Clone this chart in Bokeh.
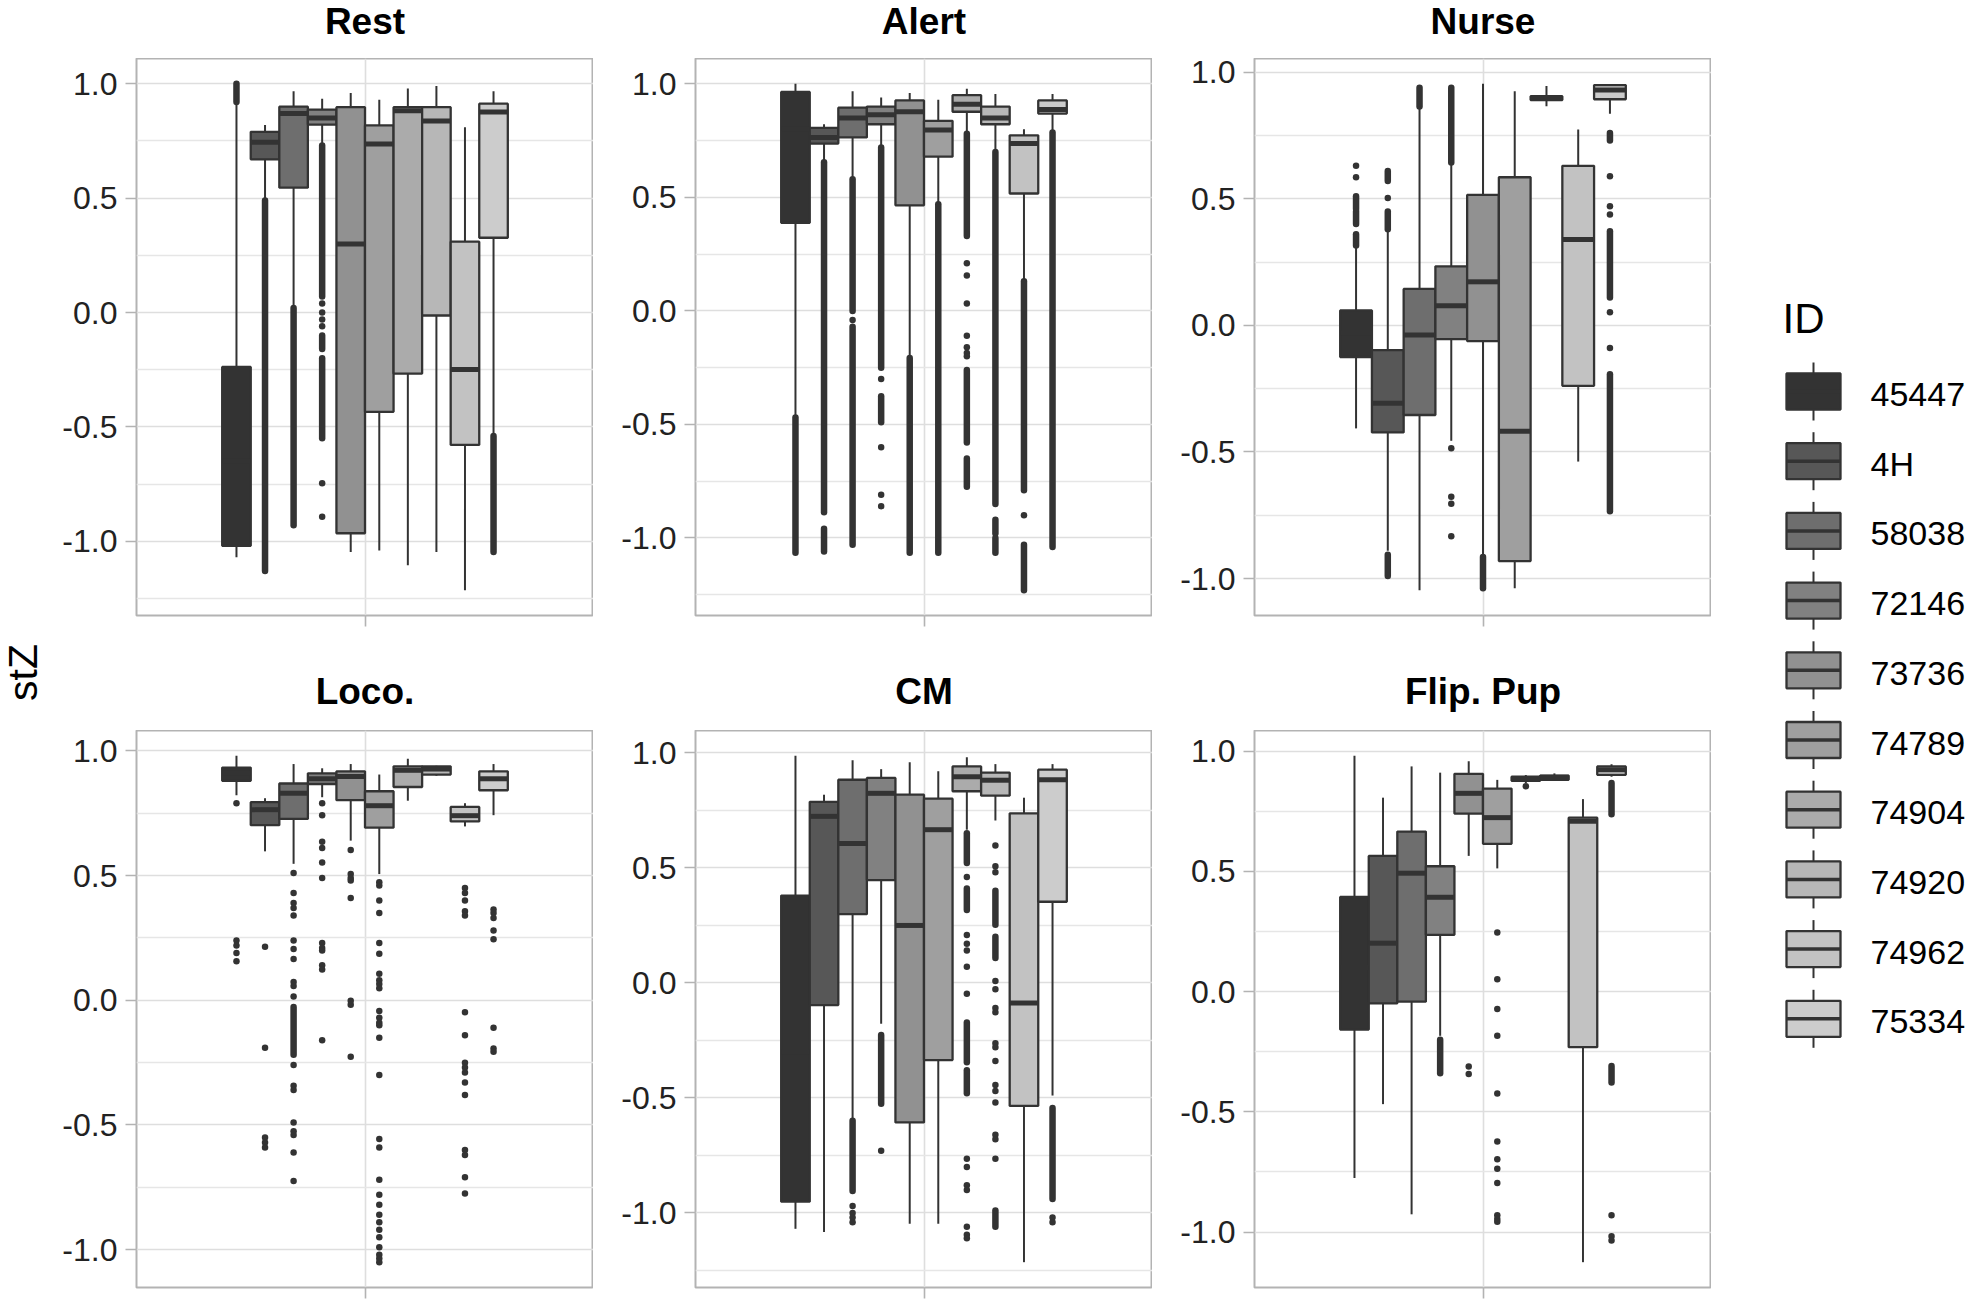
import math
from bokeh.plotting import figure
from bokeh.models import Range1d, FixedTicker, NumeralTickFormatter, ColumnDataSource
from bokeh.layouts import row, column
from bokeh.embed import file_html
from bokeh.resources import INLINE
from bokeh.core.properties import value

FONT = "Liberation Sans"

IDS = ["45447", "4H", "58038", "72146", "73736", "74789", "74904", "74920", "74962", "75334"]
FILLS = ["#333333", "#575757", "#6e6e6e", "#818181", "#919191", "#9f9f9f",
         "#ababab", "#b7b7b7", "#c2c2c2", "#cccccc"]
PANEL_TITLES = ["Rest", "Alert", "Nurse", "Loco.", "CM", "Flip. Pup"]

# ---------------- Rest ----------------
REST_LW = [-1.07, 0.49, 0.02, 0.73, -1.047, -1.04, -1.105, -1.047, -1.214, -0.54]
REST_Q1 = [-1.02, 0.67, 0.546, 0.822, -0.965, -0.434, -0.267, -0.013, -0.579, 0.327]
REST_MED = [-0.65, 0.745, 0.87, 0.85, 0.30, 0.737, 0.882, 0.837, -0.249, 0.877]
REST_Q3 = [-0.238, 0.79, 0.90, 0.887, 0.898, 0.818, 0.898, 0.898, 0.31, 0.913]
REST_UW = [0.92, 0.82, 0.967, 0.935, 0.96, 0.93, 0.98, 0.99, 0.81, 0.967]
REST_OUT = [[], [], [], [0.04, 0.0, -0.03, -0.06, -0.746, -0.893], [], [], [], [], [], []]
REST_RUNS = [[[0.92, 1.0]], [[-1.13, 0.49]], [[-0.93, 0.02]],
             [[0.07, 0.73], [-0.16, -0.10], [-0.55, -0.20]], [], [], [], [], [],
             [[-1.047, -0.54]]]

# ---------------- Alert ----------------
ALERT_LW = [-0.47, 0.655, 0.58, 0.72, -0.207, 0.47, 0.78, 0.70, 0.13, 0.786]
ALERT_Q1 = [0.388, 0.737, 0.764, 0.822, 0.465, 0.679, 0.877, 0.822, 0.517, 0.869]
ALERT_MED = [0.80, 0.764, 0.85, 0.864, 0.877, 0.797, 0.91, 0.85, 0.737, 0.887]
ALERT_Q3 = [0.964, 0.806, 0.895, 0.90, 0.927, 0.837, 0.95, 0.90, 0.773, 0.927]
ALERT_UW = [1.0, 0.822, 0.967, 0.94, 0.96, 0.93, 0.978, 0.955, 0.80, 0.955]
ALERT_OUT = [[], [], [-0.04], [-0.30, -0.60, -0.81, -0.86], [], [],
             [0.21, 0.156, 0.033, -0.11, -0.16, -0.185, -0.20], [], [-0.90], []]
ALERT_RUNS = [[[-1.065, -0.47]], [[-0.887, 0.655], [-1.06, -0.96]],
              [[0.0, 0.58], [-1.03, -0.07]], [[-0.25, 0.72], [-0.49, -0.376]],
              [[-1.065, -0.207]], [[-1.065, 0.47]],
              [[0.33, 0.78], [-0.58, -0.26], [-0.775, -0.65]],
              [[-0.85, 0.70], [-0.98, -0.92], [-1.065, -1.0]],
              [[-0.79, 0.13], [-1.23, -1.03]], [[-1.04, 0.786]]]

# ---------------- Nurse (74904 absent) ----------------
NURSE_LW = [-0.407, -0.89, -1.046, -0.456, -0.903, -1.038, None, 0.865, -0.538, 0.836]
NURSE_Q1 = [-0.125, -0.423, -0.354, -0.054, -0.062, -0.931, None, 0.89, -0.239, 0.893]
NURSE_MED = [-0.03, -0.308, -0.038, 0.077, 0.172, -0.418, None, 0.897, 0.339, 0.93]
NURSE_Q3 = [0.059, -0.098, 0.144, 0.233, 0.515, 0.585, None, 0.905, 0.63, 0.949]
NURSE_UW = [0.315, 0.372, 0.864, 0.643, 0.954, 0.925, None, 0.945, 0.774, 0.95]
NURSE_OUT = [[0.585, 0.63], [0.503], [], [-0.485, -0.677, -0.705, -0.833], [], [], [], [], [],
             [0.589, 0.47, 0.438, 0.052, -0.089]]
NURSE_RUNS = [[[0.315, 0.36], [0.40, 0.45], [0.46, 0.51]],
              [[0.38, 0.45], [0.57, 0.61], [-0.99, -0.906]],
              [[0.864, 0.938]], [[0.643, 0.938]], [[-1.038, -0.915]], [], [], [], [],
              [[0.73, 0.76], [0.11, 0.372], [-0.734, -0.193]]]

# ---------------- Loco. ----------------
LOCO_LW = [0.822, 0.597, 0.547, 0.814, 0.64, 0.506, 0.80, 0.90, 0.697, 0.742]
LOCO_Q1 = [0.88, 0.702, 0.727, 0.867, 0.802, 0.692, 0.855, 0.905, 0.717, 0.842]
LOCO_MED = [0.91, 0.764, 0.83, 0.888, 0.897, 0.78, 0.922, 0.927, 0.74, 0.888]
LOCO_Q3 = [0.933, 0.794, 0.869, 0.91, 0.918, 0.838, 0.938, 0.938, 0.775, 0.918]
LOCO_UW = [0.98, 0.81, 0.947, 0.93, 0.947, 0.905, 0.968, 0.94, 0.79, 0.947]
LOCO_OUT = [
    [0.79, 0.24, 0.22, 0.19, 0.156],
    [0.215, -0.19, -0.55, -0.57, -0.59],
    [0.51, 0.43, 0.39, 0.37, 0.34, 0.24, 0.206, 0.165, 0.073, 0.057, 0.015, -0.26, -0.343,
     -0.36, -0.49, -0.525, -0.54, -0.61, -0.725],
    [0.79, 0.742, 0.636, 0.61, 0.552, 0.49, 0.23, 0.21, 0.20, 0.14, 0.123, -0.16],
    [0.602, 0.506, 0.49, 0.48, 0.41, -0.002, -0.018, -0.226],
    [0.473, 0.46, 0.40, 0.35, 0.23, 0.186, 0.106, 0.08, 0.065, 0.048, -0.043, -0.07, -0.09,
     -0.10, -0.15, -0.30, -0.556, -0.59, -0.72, -0.78, -0.82, -0.86, -0.89, -0.92, -0.95,
     -0.99, -1.02, -1.035, -1.05],
    [], [],
    [0.45, 0.43, 0.40, 0.357, 0.34, -0.048, -0.14, -0.25, -0.27, -0.29, -0.33, -0.38,
     -0.60, -0.62, -0.71, -0.775],
    [0.364, 0.35, 0.33, 0.28, 0.245, -0.11, -0.193, -0.206]]
LOCO_RUNS = [[], [], [[-0.218, -0.027]], [], [], [], [], [], [], []]

# ---------------- CM ----------------
CM_LW = [-1.069, -1.083, -0.595, -0.178, -1.047, -1.047, 0.665, 0.705, -1.214, -0.49]
CM_Q1 = [-0.951, -0.097, 0.298, 0.446, -0.607, -0.336, 0.832, 0.813, -0.535, 0.352]
CM_MED = [-0.30, 0.723, 0.605, 0.823, 0.249, 0.665, 0.895, 0.88, -0.088, 0.882]
CM_Q3 = [0.379, 0.786, 0.882, 0.89, 0.817, 0.80, 0.94, 0.913, 0.736, 0.926]
CM_UW = [0.986, 0.817, 0.967, 0.928, 0.958, 0.919, 0.98, 0.95, 0.804, 0.95]
CM_OUT = [[], [], [-0.97, -1.0, -1.02, -1.04], [-0.73], [], [],
          [0.46, 0.207, 0.17, 0.14, 0.07, -0.048, -0.765, -0.80, -0.88, -0.90, -1.06, -1.095, -1.11],
          [0.596, 0.506, 0.48, 0.008, -0.028, -0.11, -0.128, -0.263, -0.28, -0.34, -0.444,
           -0.47, -0.52, -0.66, -0.68, -0.765],
          [], [-1.02, -1.04]]
CM_RUNS = [[], [], [[-0.905, -0.60]], [[-0.526, -0.227]], [], [],
           [[0.52, 0.65], [0.316, 0.41], [-0.345, -0.173], [-0.48, -0.38]],
           [[0.252, 0.40], [0.108, 0.20], [-1.06, -0.99]], [], [[-0.94, -0.544]]]

# ---------------- Flip. Pup ----------------
FLIP_LW = [-0.775, -0.468, -0.926, -0.184, 0.564, 0.512, 0.867, 0.876, -1.125, 0.893]
FLIP_Q1 = [-0.158, -0.049, -0.042, 0.236, 0.74, 0.614, 0.876, 0.88, -0.231, 0.901]
FLIP_MED = [0.10, 0.201, 0.492, 0.392, 0.824, 0.723, 0.884, 0.891, 0.708, 0.922]
FLIP_Q3 = [0.393, 0.564, 0.665, 0.521, 0.905, 0.844, 0.893, 0.898, 0.723, 0.936]
FLIP_UW = [0.98, 0.806, 0.936, 0.91, 0.957, 0.88, 0.90, 0.907, 0.80, 0.945]
FLIP_OUT = [[], [], [], [], [-0.312, -0.343],
            [0.245, 0.051, -0.073, -0.184, -0.424, -0.623, -0.697, -0.737, -0.796, -0.93, -0.945, -0.957],
            [0.853], [], [], [-0.93, -1.017, -1.035]]
FLIP_RUNS = [[], [], [], [[-0.34, -0.20]], [], [], [], [], [], [[0.737, 0.867], [-0.378, -0.309]]]

Y_TICKS = [-1.0, -0.5, 0.0, 0.5, 1.0]
Y_MINOR = [-1.25, -0.75, -0.25, 0.25, 0.75, 1.25]

LINE = "#333333"
GRID = "#dedede"
BORDER = "#b3b3b3"
DOT = 6.5

# layout (page pixels)
LABEL_W = 58
FRAME_W = 457
FRAME_H = 557
LEFTS = [78, 102, 102]
HEAD1_H = 58
HEAD2_H = 103
BOTTOM = 12
TOTAL_H = HEAD1_H + FRAME_H + BOTTOM + HEAD2_H + FRAME_H + BOTTOM
GRID_W = sum(LEFTS) + 3 * FRAME_W
LEG_X0 = LABEL_W + GRID_W
LEG_W = 1967 - LEG_X0


def make_panel(lw, q1, med, q3, uw, outs, runs, left):
    present = [i for i in range(len(IDS)) if q1[i] is not None]
    n = len(present)
    w = 0.75 / n
    xs = [1 - 0.375 + (k + 0.5) * w for k in range(n)]

    vals = []
    for i in present:
        vals += [lw[i], uw[i]] + outs[i] + [v for r in runs[i] for v in r]
    lo, hi = min(vals), max(vals)
    pad = 0.05 * (hi - lo)

    p = figure(frame_width=FRAME_W, frame_height=FRAME_H, x_range=Range1d(0.4, 1.6),
               y_range=Range1d(lo - pad, hi + pad), output_backend="svg",
               toolbar_location=None,
               min_border_left=left, min_border_right=0,
               min_border_top=0, min_border_bottom=BOTTOM)
    p.title.visible = False
    p.background_fill_color = "white"
    p.border_fill_color = "white"
    p.outline_line_color = BORDER
    p.outline_line_width = 2

    p.yaxis.ticker = FixedTicker(ticks=Y_TICKS, minor_ticks=Y_MINOR)
    p.yaxis.formatter = NumeralTickFormatter(format="0.0")
    p.yaxis.major_label_text_font = FONT
    p.yaxis.major_label_text_font_size = "32px"
    p.yaxis.major_label_text_color = "#222222"
    p.yaxis.major_label_standoff = 8
    p.yaxis.axis_line_color = None
    p.yaxis.major_tick_line_color = BORDER
    p.yaxis.major_tick_line_width = 1.6
    p.yaxis.major_tick_out = 11
    p.yaxis.major_tick_in = 0
    p.yaxis.minor_tick_line_color = None

    p.xaxis.ticker = FixedTicker(ticks=[1.0])
    p.xaxis.major_label_text_font_size = "0px"
    p.xaxis.major_label_text_color = None
    p.xaxis.major_label_standoff = 0
    p.xaxis.axis_line_color = None
    p.xaxis.major_tick_line_color = BORDER
    p.xaxis.major_tick_line_width = 1.6
    p.xaxis.major_tick_out = 11
    p.xaxis.major_tick_in = 0
    p.xaxis.minor_tick_line_color = None

    p.xgrid.grid_line_color = GRID
    p.xgrid.grid_line_width = 1.6
    p.ygrid.grid_line_color = GRID
    p.ygrid.grid_line_width = 1.6
    p.ygrid.minor_grid_line_color = "#e6e6e6"
    p.ygrid.minor_grid_line_width = 1.3

    # outliers (dense runs of overlapping points, then single points)
    rx, ry0, ry1, px, py = [], [], [], [], []
    for k, i in enumerate(present):
        for a, b in runs[i]:
            rx.append(xs[k]); ry0.append(a); ry1.append(b)
        for v in outs[i]:
            px.append(xs[k]); py.append(v)
    p.segment(x0=rx, x1=rx, y0=ry0, y1=ry1, line_color=LINE, line_width=DOT, line_cap="round")
    p.scatter(x=px, y=py, size=DOT, fill_color=LINE, line_color=None)

    # whiskers
    p.segment(x0=xs, x1=xs, y0=[q3[i] for i in present], y1=[uw[i] for i in present],
              line_color=LINE, line_width=2)
    p.segment(x0=xs, x1=xs, y0=[q1[i] for i in present], y1=[lw[i] for i in present],
              line_color=LINE, line_width=2)

    # boxes
    src = ColumnDataSource(dict(x=xs, top=[q3[i] for i in present], bottom=[q1[i] for i in present],
                                fill=[FILLS[i] for i in present]))
    p.vbar(x="x", top="top", bottom="bottom", width=w, fill_color="fill",
           line_color=LINE, line_width=2.3, source=src)
    # medians
    p.segment(x0=[x - w / 2 for x in xs], x1=[x + w / 2 for x in xs],
              y0=[med[i] for i in present], y1=[med[i] for i in present],
              line_color=LINE, line_width=5)
    return p


def blank(width, height, x0, y0):
    f = figure(width=width, height=height, x_range=Range1d(x0, x0 + width),
               y_range=Range1d(-(y0 + height), -y0), output_backend="svg",
               toolbar_location=None, min_border=0)
    f.title.visible = False
    f.axis.visible = False
    f.grid.visible = False
    f.outline_line_color = None
    f.background_fill_color = "white"
    f.border_fill_color = "white"
    return f


p_rest = make_panel(REST_LW, REST_Q1, REST_MED, REST_Q3, REST_UW, REST_OUT, REST_RUNS, LEFTS[0])
p_alert = make_panel(ALERT_LW, ALERT_Q1, ALERT_MED, ALERT_Q3, ALERT_UW, ALERT_OUT, ALERT_RUNS, LEFTS[1])
p_nurse = make_panel(NURSE_LW, NURSE_Q1, NURSE_MED, NURSE_Q3, NURSE_UW, NURSE_OUT, NURSE_RUNS, LEFTS[2])
p_loco = make_panel(LOCO_LW, LOCO_Q1, LOCO_MED, LOCO_Q3, LOCO_UW, LOCO_OUT, LOCO_RUNS, LEFTS[0])
p_cm = make_panel(CM_LW, CM_Q1, CM_MED, CM_Q3, CM_UW, CM_OUT, CM_RUNS, LEFTS[1])
p_flip = make_panel(FLIP_LW, FLIP_Q1, FLIP_MED, FLIP_Q3, FLIP_UW, FLIP_OUT, FLIP_RUNS, LEFTS[2])

# panel-centre x positions (page pixels) for the strip titles
centres = []
acc = LABEL_W
for L in LEFTS:
    centres.append(acc + L + FRAME_W / 2)
    acc += L + FRAME_W

head1 = blank(GRID_W, HEAD1_H, LABEL_W, 0)
head1.text(x=centres, y=[-21] * 3, text=PANEL_TITLES[:3], text_align="center",
           text_baseline="middle", text_font=value(FONT), text_font_size="37px",
           text_font_style="bold", text_color="black")
y2 = HEAD1_H + FRAME_H + BOTTOM
head2 = blank(GRID_W, HEAD2_H, LABEL_W, y2)
head2.text(x=centres, y=[-(y2 + 64)] * 3, text=PANEL_TITLES[3:], text_align="center",
           text_baseline="middle", text_font=value(FONT), text_font_size="37px",
           text_font_style="bold", text_color="black")

# y-axis title
lab = blank(LABEL_W, TOTAL_H, 0, 0)
lab.text(x=[22], y=[-672], text=["stZ"], angle=math.pi / 2, text_align="center",
         text_baseline="middle", text_font=value(FONT), text_font_size="41px",
         text_color="black")

# legend
leg = blank(LEG_W, TOTAL_H, LEG_X0, 0)
leg.text(x=[1782], y=[-318], text=["ID"], text_align="left", text_baseline="middle",
         text_font=value(FONT), text_font_size="42px", text_color="black")
ky = [391 + i * 69.7 for i in range(len(IDS))]
kx = 1813
nk = len(IDS)
leg.segment(x0=[kx] * nk, x1=[kx] * nk, y0=[-(c - 29) for c in ky],
            y1=[-(c + 29) for c in ky], line_color=LINE, line_width=2)
leg.vbar(x=[kx] * nk, top=[-(c - 18) for c in ky], bottom=[-(c + 18) for c in ky],
         width=54, fill_color=FILLS, line_color=LINE, line_width=2.3)
leg.segment(x0=[kx - 27] * nk, x1=[kx + 27] * nk, y0=[-c for c in ky],
            y1=[-c for c in ky], line_color=LINE, line_width=3.5)
leg.text(x=[1870] * nk, y=[-(c + 3) for c in ky], text=IDS, text_align="left",
         text_baseline="middle", text_font=value(FONT), text_font_size="34px",
         text_color="black")

grid = column(head1, row(p_rest, p_alert, p_nurse), head2, row(p_loco, p_cm, p_flip))
layout = row(lab, grid, leg)

open("out.html", "w").write(file_html(layout, INLINE))
